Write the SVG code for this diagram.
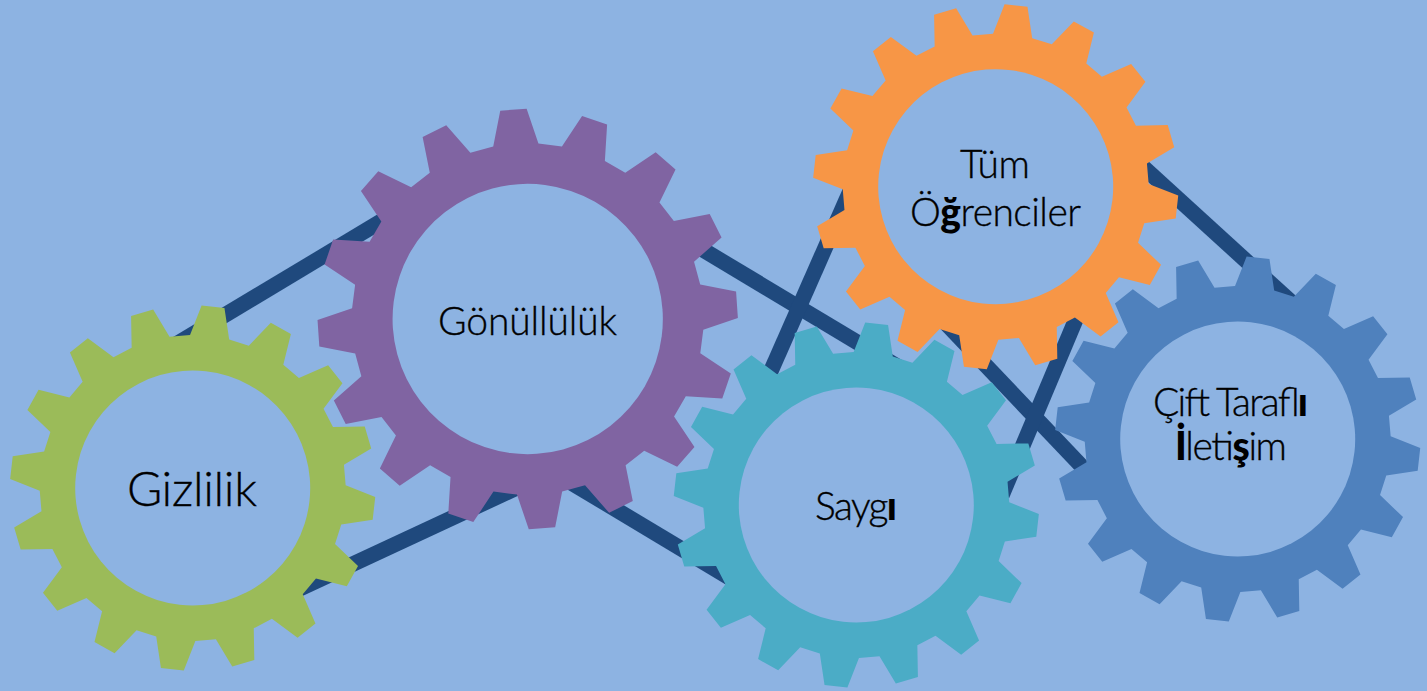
<svg xmlns="http://www.w3.org/2000/svg" width="1427" height="691" viewBox="0 0 1427 691">
<style>
.belt{fill:none;stroke:#1F497D;stroke-width:15.5}
.hole{fill:#8DB3E2}
text{font-family:"Lato","Liberation Sans",sans-serif;font-weight:300;fill:#000;stroke:#000;stroke-width:.35;text-anchor:start}
.m{font-size:39px}
.l{font-size:48px}
.b{font-weight:900;stroke-width:0}
</style>
<defs>
<g id="gear">
<polygon points="11.5,-182.4 19.7,-151.7 39.9,-147.7 59.2,-173 80.4,-164.1 76.3,-132.6 93.3,-121.2 120.9,-137.1 137.1,-120.9 121.2,-93.3 132.6,-76.3 164.1,-80.4 173,-59.2 147.7,-39.9 151.7,-19.7 182.4,-11.5 182.4,11.5 151.7,19.7 147.7,39.9 173,59.2 164.1,80.4 132.6,76.3 121.2,93.3 137.1,120.9 120.9,137.1 93.3,121.2 76.3,132.6 80.4,164.1 59.2,173 39.9,147.7 19.7,151.7 11.5,182.4 -11.5,182.4 -19.7,151.7 -39.9,147.7 -59.2,173 -80.4,164.1 -76.3,132.6 -93.3,121.2 -120.9,137.1 -137.1,120.9 -121.2,93.3 -132.6,76.3 -164.1,80.4 -173,59.2 -147.7,39.9 -151.7,19.7 -182.4,11.5 -182.4,-11.5 -151.7,-19.7 -147.7,-39.9 -173,-59.2 -164.1,-80.4 -132.6,-76.3 -121.2,-93.3 -137.1,-120.9 -120.9,-137.1 -93.3,-121.2 -76.3,-132.6 -80.4,-164.1 -59.2,-173 -39.9,-147.7 -19.7,-151.7 -11.5,-182.4"/>
<circle class="hole" r="117.5"/>
</g>
</defs>
<rect id="background" width="1427" height="691" fill="#8DB3E2"/>
<g id="connectors">
<line class="belt" x1="170" y1="348" x2="385" y2="219"/>
<line class="belt" x1="295" y1="591" x2="540" y2="477"/>
<line class="belt" x1="560" y1="476" x2="735" y2="581"/>
<line class="belt" x1="690" y1="242" x2="905" y2="371"/>
<line class="belt" x1="935" y1="312" x2="1090" y2="475"/>
<line class="belt" x1="855" y1="180" x2="767" y2="380"/>
<line class="belt" x1="1084" y1="300" x2="1002" y2="495"/>
<line class="belt" x1="1130" y1="155" x2="1300" y2="310"/>
</g>
<g id="node-gizlilik">
<use href="#gear" fill="#9BBB59" transform="translate(192.7 488) rotate(6.4)"/>
<text class="l" x="127" y="506" textLength="130">Gizlilik</text>
</g>
<g id="node-gonulluluk">
<use href="#gear" fill="#8064A2" transform="translate(527.7 319) rotate(-3.9) scale(1.15)"/>
<text class="m" x="438" y="335" textLength="179">Gönüllülük</text>
</g>
<g id="node-saygi">
<use href="#gear" fill="#4BACC6" transform="translate(856.3 505) rotate(6.4)"/>
<text class="m" x="815" y="520" textLength="82">Sayg<tspan class="b">ı</tspan></text>
</g>
<g id="node-tum-ogrenciler">
<use href="#gear" fill="#F79646" transform="translate(995.7 186.7) rotate(6.4)"/>
<text class="m" x="960" y="177.7" textLength="70">Tüm</text>
<text class="m" x="910" y="226" textLength="171">Ö<tspan class="b">ğ</tspan>renciler</text>
</g>
<g id="node-cift-tarafli">
<use href="#gear" fill="#4F81BD" transform="translate(1237.7 439) rotate(6.4)"/>
<text class="m" x="1153" y="416" textLength="155">Çift Tarafl<tspan class="b">ı</tspan></text>
<text class="m" x="1175" y="460" textLength="112"><tspan class="b">İ</tspan>leti<tspan class="b">ş</tspan>im</text>
</g>
</svg>
